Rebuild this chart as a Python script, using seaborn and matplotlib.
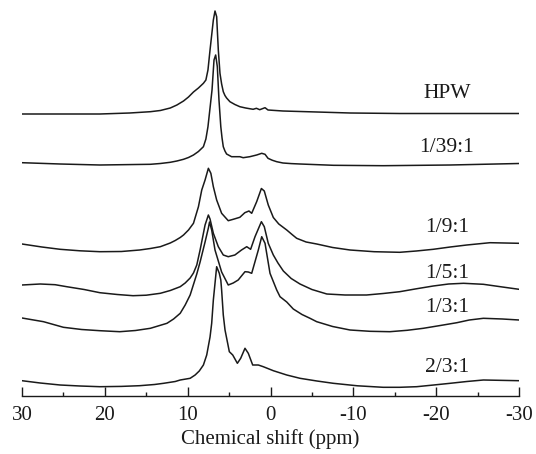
import numpy as np
import pandas as pd
import matplotlib
matplotlib.use("Agg")
import matplotlib.pyplot as plt
import seaborn as sns
from matplotlib.ticker import MultipleLocator

# -----------------------------
# Spectra (ppm, relative intensity)
# -----------------------------
samples = ["HPW", "1/39:1", "1/9:1", "1/5:1", "1/3:1", "2/3:1"]
offsets = [282, 233, 152, 111, 78, 15]
label_y = [303, 248, 168, 123, 88, 28]

hpw_ppm = [30.0, 25.4, 20.6, 17.0, 14.5, 13.3, 12.1, 11.3, 10.5, 9.9, 9.3, 8.7, 8.1,
           7.8, 7.55, 7.3, 6.9, 6.7, 6.5, 6.3, 6.1, 5.9, 5.7, 5.5, 5.3, 4.9, 4.3,
           3.7, 3.0, 2.1, 1.7, 1.3, 0.66, 0.3, -1.5, -5.6, -9.6, -15.6, -21.7, -30.0]
hpw_int = [0, 0, 0, 1, 2.3, 3.5, 6, 9, 13, 17, 22, 26, 30.7,
           34, 44, 64, 94, 103, 97.3, 64, 40.7, 30, 22.3, 18.5, 16, 12.3, 9.5,
           7.3, 6, 4.7, 5.7, 4.3, 6.3, 4, 3, 2, 1, 0.5, 0.5, 0.5]

r39_ppm = [30.0, 25.4, 20.6, 14.5, 13.3, 12.1, 11.3, 10.5, 9.9, 9.3, 8.7, 8.1, 7.8,
           7.55, 7.06, 6.82, 6.62, 6.42, 6.22, 6.0, 5.85, 5.7, 5.5, 5.3, 4.7, 3.7,
           3.3, 2.5, 1.67, 1.06, 0.66, 0.3, -0.2, -0.75, -1.5, -2.5, -3.56, -7.6,
           -13.6, -21.7, -30.0]
r39_int = [0.3, -1, -2, -1.3, -0.5, 0.7, 2, 3.7, 5.5, 8, 11.5, 16.3, 24,
           36.3, 73, 103, 108, 96.3, 63, 36.3, 25, 16.3, 12, 9, 6.3, 6.3,
           5.3, 6.3, 8, 9.7, 8.7, 4.7, 2.8, 1.3, 0, -0.6, -1, -2.3,
           -2.7, -2, -0.5]

r9_ppm = [30.0, 27.6, 25.4, 23.0, 20.6, 18.0, 15.8, 14.5, 13.3, 12.1, 11.5, 10.9, 10.5,
          9.9, 9.3, 8.7, 8.3, 7.9, 7.5, 7.2, 6.9, 6.5, 5.9, 5.1, 4.5, 3.7, 3.1,
          2.6, 2.27, 1.67, 1.1, 0.75, 0.27, -0.34, -1.0, -1.96, -2.6, -3.16, -4.3,
          -5.58, -7.5, -9.6, -12.5, -15.6, -17.6, -19.65, -21.7, -23.7, -26.5, -30.0]
r9_int = [0, -3, -5.3, -6.8, -7.7, -7.5, -6, -4.5, -2.7, 1, 3.5, 6.5, 9,
          14, 20.7, 37.3, 54, 64, 75.7, 70.7, 57.3, 44, 30.7, 23.3, 24.7, 26.7, 31.3,
          33, 30.7, 42.3, 55.5, 53, 39, 26.5, 20, 14, 9.5, 5.7, 2,
          0, -3.5, -6, -7.7, -8.3, -7, -5.3, -3, -1, 1.3, 0.7]

r5_ppm = [30.0, 27.8, 26.0, 24.6, 22.5, 20.6, 18.5, 16.6, 15.0, 13.3, 12.1, 10.9, 10.3,
          9.7, 9.3, 8.9, 8.5, 7.9, 7.5, 7.3, 6.9, 6.3, 5.7, 5.1, 4.3, 3.5, 2.87,
          2.4, 1.87, 1.1, 0.75, 0.27, -0.34, -0.9, -1.55, -2.5, -3.56, -5.0, -6.8,
          -9.0, -11.6, -13.6, -15.6, -17.6, -19.65, -21.5, -23.3, -25.7, -28.0, -30.0]
r5_int = [0, 1, 0.3, -1.7, -4.5, -7.7, -9.5, -10.7, -10.2, -8.3, -5.5, -1.7, 2,
          7, 12, 20, 35, 60, 70, 66, 51.7, 38.3, 30, 28.3, 30, 35, 38.3,
          35.7, 48.3, 63.3, 58.3, 41.7, 30, 22, 14, 6.5, 1, -4.5, -9,
          -10, -10, -8.5, -6.7, -3.8, -1, 1, 1.7, 0.7, -2, -4.3]

r3_ppm = [30.0, 27.4, 25.0, 22.8, 20.6, 18.2, 16.3, 14.5, 12.5, 11.7, 10.9, 10.3, 9.7,
          8.9, 8.5, 7.9, 7.5, 7.36, 7.1, 6.7, 5.9, 5.1, 4.5, 3.9, 3.08, 2.68, 2.27,
          1.47, 1.06, 0.66, 0.06, -0.75, -1.15, -1.96, -2.75, -3.8, -4.77, -5.58,
          -7.5, -9.6, -12.0, -14.4, -16.5, -18.45, -20.5, -22.5, -24.0, -25.7,
          -28.0, -30.0]
r3_int = [0, -3.7, -9.3, -11.5, -12.7, -13.7, -12.5, -10.3, -5.3, -1, 4.7, 13, 23,
          44, 56, 76, 90, 96, 88, 68, 46, 33, 35, 38, 46.3, 46, 44.7,
          68, 81.3, 74.7, 44.7, 28, 21.3, 16, 9, 3.5, -0.3, -3.7,
          -8.5, -12, -13.3, -13.7, -12.3, -10.3, -7.5, -4.7, -2, -0.3,
          -1, -2]

r23_ppm = [30.0, 27.8, 25.4, 23.0, 20.6, 18.0, 15.8, 14.0, 12.9, 11.5, 10.9, 9.7, 9.1,
           8.6, 8.1, 7.7, 7.3, 7.1, 6.9, 6.5, 6.18, 6.0, 5.9, 5.7, 5.49, 4.97,
           4.56, 4.0, 3.6, 3.08, 2.68, 2.15, 1.47, 0.87, -0.34, -1.96, -3.56, -5.6,
           -7.58, -10.5, -13.6, -15.6, -17.65, -19.7, -21.7, -23.7, -25.7, -30.0]
r23_int = [0.3, -2, -4, -5, -5.7, -5.4, -4.7, -3.5, -2.3, -0.5, 1, 2.7, 6,
           10, 16, 26, 44, 57.7, 81, 114.3, 107.7, 101, 91, 66, 51, 29.3,
           26, 17.7, 22.7, 32.7, 27.7, 16, 16, 14.3, 10.3, 6, 2.7, 0,
           -2.3, -4.8, -6.3, -6.3, -5.7, -4, -2.3, -0.5, 1, 0.3]

ppm_list = [hpw_ppm, r39_ppm, r9_ppm, r5_ppm, r3_ppm, r23_ppm]
int_list = [hpw_int, r39_int, r9_int, r5_int, r3_int, r23_int]

frames = []
for name, off, p, i in zip(samples, offsets, ppm_list, int_list):
    frames.append(pd.DataFrame({"Sample": name,
                                "ppm": p,
                                "Signal": np.array(i) + off}))
spectra = pd.concat(frames, ignore_index=True)

# -----------------------------
# Style
# -----------------------------
sns.set_theme(style="ticks")
plt.rcParams["font.family"] = ["Liberation Serif", "DejaVu Serif"]

fig = plt.figure(figsize=(5.36, 4.54), dpi=100)
ax = fig.add_axes([22 / 536, 58 / 454, 497 / 536, 396 / 454])

for name in samples:
    sns.lineplot(data=spectra[spectra["Sample"] == name], x="ppm", y="Signal",
                 ax=ax, color="#1a1a1a", linewidth=1.1, sort=False,
                 estimator=None)

for name, ly in zip(samples, label_y):
    ax.text(-21.3, ly, name, ha="center", va="center", fontsize=15.5,
            color="#1a1a1a")

# -----------------------------
# Axes
# -----------------------------
ax.set_xlim(30, -30)
ax.set_ylim(0, 396)
ax.xaxis.set_minor_locator(MultipleLocator(5))
ax.set_xticks([30, 20, 10, 0, -10, -20, -30])
ax.set_xticklabels(["30", "20", "10", "0", "-10", "-20", "-30"])
ax.tick_params(axis="x", which="major", direction="in", length=6.5,
               width=1.0, labelsize=15, pad=7, colors="#1a1a1a")
ax.tick_params(axis="x", which="minor", direction="in", length=3.2,
               width=1.0, colors="#1a1a1a")
ax.set_yticks([])
ax.set_xlabel("Chemical shift (ppm)", fontsize=15, labelpad=3,
              color="#1a1a1a")
ax.set_ylabel("")

for side in ["left", "right", "top"]:
    ax.spines[side].set_visible(False)
ax.spines["bottom"].set_color("#1a1a1a")
ax.spines["bottom"].set_linewidth(1.0)
ax.patch.set_alpha(0)

fig.savefig("out.png", dpi=100)
